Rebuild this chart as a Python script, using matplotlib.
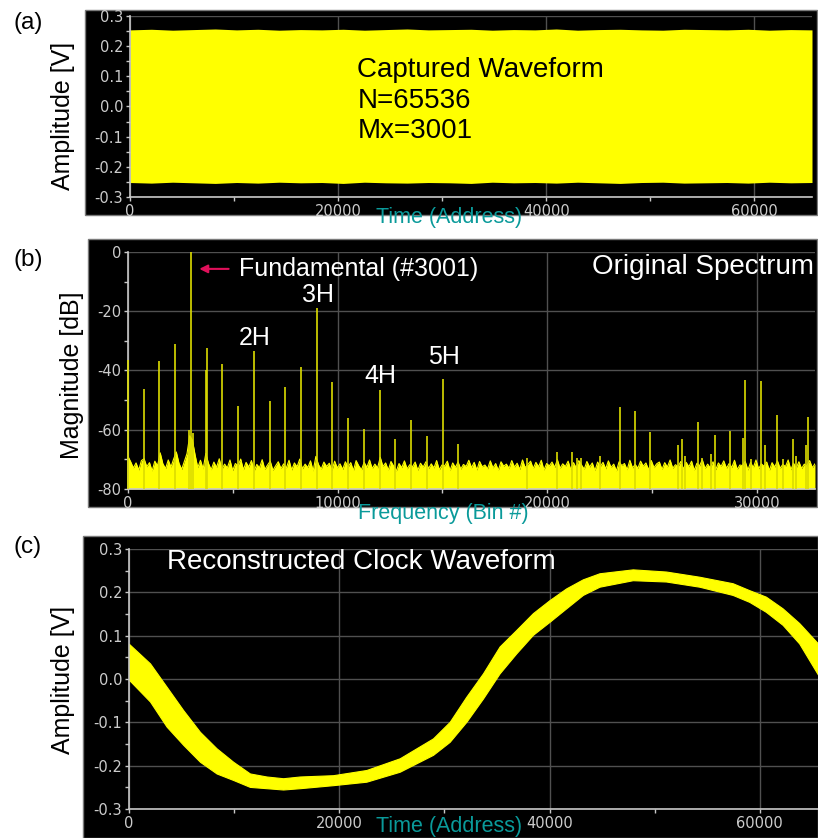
import numpy as np
import matplotlib
matplotlib.use("Agg")
import matplotlib.pyplot as plt
from matplotlib.patches import Rectangle

plt.rcParams['axes.unicode_minus'] = False

# ------------------------------------------------------------------ data
# (a) captured waveform: envelope of the dense sine record (N=65536)
a_step = 2048
a_upper = [0.254, 0.256, 0.253, 0.255, 0.257, 0.254, 0.256, 0.253, 0.255,
           0.254, 0.256, 0.253, 0.255, 0.257, 0.254, 0.255, 0.256, 0.253,
           0.255, 0.254, 0.257, 0.253, 0.255, 0.256, 0.254, 0.253, 0.256,
           0.255, 0.254, 0.256, 0.253, 0.255, 0.254]
a_lower = [-0.252, -0.254, -0.251, -0.253, -0.255, -0.252, -0.254, -0.251,
           -0.253, -0.252, -0.255, -0.251, -0.253, -0.254, -0.252, -0.253,
           -0.255, -0.251, -0.253, -0.252, -0.254, -0.251, -0.253, -0.255,
           -0.252, -0.251, -0.254, -0.253, -0.252, -0.254, -0.251, -0.253,
           -0.252]

# (b) spectrum: discrete spurs (bin, dB) and noise floor
spur_bins = [0, 750, 1500, 2250, 2930, 3001, 3080, 3730, 3751, 4501, 5251,
             6002, 6752, 7502, 8252, 9003, 9753, 10504, 11254, 12004, 12754,
             13505, 14255, 15005, 15755,
             19030, 20480, 21200, 21400, 21600, 22490, 23460, 24200, 24920,
             26250, 26440, 26560, 27180, 27400, 27800, 27975, 28710, 29330,
             29440, 29730, 30180, 30370, 30970, 31260, 31720, 31880, 32330,
             32440]
spur_db = [-36.4, -46.2, -36.9, -31.0, -60.0, 0.0, -61.0, -39.8, -32.5,
           -37.9, -52.0, -33.3, -50.3, -45.5, -38.7, -19.0, -43.8, -56.1,
           -59.7, -46.6, -63.2, -56.8, -62.1, -43.0, -64.7,
           -69.6, -67.5, -67.5, -69.6, -69.6, -68.9, -52.4, -53.6, -60.9,
           -65.1, -63.0, -69.0, -57.5, -69.6, -68.3, -61.8, -60.3, -62.9,
           -43.3, -70.0, -43.7, -65.1, -54.9, -69.8, -63.2, -68.9, -65.1,
           -55.7]
floor_step = 128
floor_db = [
    -69.0, -70.8, -72.9, -71.2, -73.6, -70.4, -69.8, -72.5, -71.1, -73.9, -70.6, -72.2, -67.8, -71.5, -73.1, -70.2,
    -72.6, -69.9, -67.5, -71.3, -73.4, -70.7, -68.0, -62.0, -63.5, -68.5, -72.8, -70.3, -73.2, -68.0, -71.4, -73.5,
    -70.9, -72.7, -69.8, -73.3, -71.6, -72.9, -70.2, -73.8, -71.4, -72.1, -69.9, -73.5, -71.0, -72.6, -70.4, -73.9,
    -71.7, -72.8, -70.1, -73.4, -71.9, -70.6, -73.7, -72.2, -70.8, -73.1, -71.5, -72.9, -70.3, -73.6, -71.2, -72.5,
    -69.9, -73.2, -71.6, -72.8, -70.5, -73.9, -69.0, -71.8, -73.3, -70.9, -72.4, -71.3, -73.7, -70.6, -72.9, -71.5,
    -73.4, -70.8, -72.6, -71.1, -73.8, -70.4, -72.2, -73.5, -71.0, -72.7, -70.2, -73.1, -71.6, -72.9, -69.3, -72.4,
    -71.2, -73.6, -70.7, -72.3, -73.9, -71.4, -72.8, -70.5, -73.2, -71.8, -72.5, -70.9, -73.7, -71.3, -72.6, -70.8,
    -73.1, -71.5, -72.9, -70.4, -73.5, -71.9, -72.2, -70.6, -73.8, -71.2, -72.7, -70.9, -73.3, -71.7, -72.4, -70.3,
    -72.8, -71.0, -73.6, -70.7, -72.5, -71.9, -73.2, -70.5, -72.9, -71.4, -73.7, -70.8, -72.3, -71.6, -73.0, -70.4,
    -72.6, -71.3, -73.4, -70.2, -72.8, -71.7, -70.6, -73.1, -71.0, -72.5, -70.3, -73.6, -71.4, -72.2, -70.9, -72.7,
    -70.1, -73.0, -71.5, -72.4, -70.6, -73.5, -71.1, -72.8, -70.4, -71.9, -73.3, -70.7, -72.6, -71.2, -73.8, -70.9,
    -72.4, -71.0, -73.2, -70.5, -72.7, -71.6, -73.9, -70.8, -72.1, -71.4, -73.5, -70.3, -72.9, -71.7, -73.0, -70.6,
    -72.3, -71.2, -73.6, -70.4, -72.8, -71.5, -70.9, -73.4, -71.1, -72.6, -70.2, -73.0, -71.8, -72.4, -70.7, -73.3,
    -71.0, -72.5, -70.6, -73.7, -71.3, -72.2, -70.1, -73.1, -71.6, -72.9, -70.8, -73.5, -71.2, -72.4, -70.5, -73.0,
    -71.4, -72.7, -70.3, -73.4, -71.9, -72.1, -70.7, -73.6, -71.0, -72.8, -70.2, -73.2, -71.5, -72.3, -70.9, -73.7,
    -71.1, -72.6, -70.5, -73.0, -71.7, -72.4, -70.2, -73.5, -71.3, -72.9, -70.8, -73.1, -71.6, -72.2, -70.4, -72.8,
    -71.5]
harm_labels = ['2H', '3H', '4H', '5H']

# (c) reconstructed clock waveform: band envelope
c_addr = [0, 2000, 3580, 5160, 6750, 8330, 9910, 11500, 13080, 14660, 16250,
          19410, 22580, 25750, 28920, 30500, 32080, 33670, 35250, 36830,
          38420, 40000, 41580, 43170, 44750, 47920, 51080, 54250, 57420,
          59000, 60580, 62170, 63750, 65536]
c_upper = [0.081, 0.036, -0.018, -0.072, -0.122, -0.160, -0.191, -0.218,
           -0.225, -0.229, -0.225, -0.222, -0.210, -0.183, -0.137, -0.099,
           -0.041, 0.013, 0.075, 0.113, 0.152, 0.182, 0.209, 0.230, 0.244,
           0.253, 0.248, 0.236, 0.221, 0.205, 0.190, 0.163, 0.129, 0.082]
c_lower = [-0.002, -0.052, -0.110, -0.152, -0.191, -0.218, -0.233, -0.249,
           -0.252, -0.255, -0.252, -0.245, -0.237, -0.214, -0.175, -0.145,
           -0.099, -0.045, 0.013, 0.059, 0.102, 0.132, 0.163, 0.194, 0.213,
           0.228, 0.225, 0.213, 0.194, 0.178, 0.155, 0.125, 0.082, 0.010]

time_major = [0, 20000, 40000, 60000]
time_minor = [10000, 30000, 50000]
amp_major = [-0.3, -0.2, -0.1, 0.0, 0.1, 0.2, 0.3]
amp_minor = [-0.25, -0.15, -0.05, 0.05, 0.15, 0.25]
freq_major = [0, 10000, 20000, 30000]
freq_minor = [5000, 15000, 25000]
db_major = [-80, -60, -40, -20, 0]
db_minor = [-70, -50, -30, -10]

# ------------------------------------------------------------------ style
W, H = 818, 838
YEL = '#ffff00'
SPUR = '#dcdc00'
GRID = '#505050'
SPINE = '#c8c8c8'
TICKLAB = '#cccccc'
TEAL = '#0a9a9a'
SANS = ['Liberation Sans', 'DejaVu Sans']

fig = plt.figure(figsize=(W / 100, H / 100), dpi=100)
fig.patch.set_facecolor('white')


def fx(x):
    return x / W


def fy(y):
    return 1 - y / H


def box(x0, y0, x1, y1):
    r = Rectangle((fx(x0), fy(y1)), fx(x1) - fx(x0), fy(y0) - fy(y1),
                  transform=fig.transFigure, facecolor='black',
                  edgecolor='#7a7a7a', linewidth=1.0, zorder=-5)
    fig.add_artist(r)


def make_axes(x0, y0, x1, y1):
    ax = fig.add_axes([fx(x0), fy(y1), fx(x1) - fx(x0), fy(y0) - fy(y1)])
    ax.set_facecolor('black')
    for s in ('top', 'right'):
        ax.spines[s].set_visible(False)
    for s in ('left', 'bottom'):
        ax.spines[s].set_color(SPINE)
        ax.spines[s].set_linewidth(1.2)
    ax.tick_params(which='both', direction='out', color=SPINE,
                   labelcolor=TICKLAB, labelsize=10.5, pad=2)
    ax.tick_params(which='major', length=3, width=1)
    ax.tick_params(which='minor', length=3, width=1)
    ax.grid(True, which='major', color=GRID, linewidth=1.0)
    ax.set_axisbelow(True)
    return ax


# boxes behind panels
box(85, 10, 817, 215)
box(88, 239, 817, 507)
box(83, 536, 818, 838)

# ---------------- panel (a)
ax_a = make_axes(130, 16, 812, 197)
a_x = np.arange(len(a_upper)) * a_step
a_x[-1] = 65536
ax_a.fill_between(a_x, a_lower, a_upper, color=YEL, linewidth=0, zorder=2)
ax_a.set_xlim(0, 65536)
ax_a.set_ylim(-0.3, 0.3)
ax_a.set_xticks(time_major)
ax_a.set_xticks(time_minor, minor=True)
ax_a.set_yticks(amp_major)
ax_a.set_yticks(amp_minor, minor=True)
ax_a.set_yticklabels([f'{v:.1f}' for v in amp_major])
for txt, yv in [('Captured Waveform', 0.121), ('N=65536', 0.018),
                ('Mx=3001', -0.081)]:
    ax_a.text(21850, yv, txt, fontsize=20, family=SANS, color='black',
              ha='left', va='center', zorder=5)

# ---------------- panel (b)
ax_b = make_axes(128, 252, 815, 489)
f_x = np.arange(len(floor_db)) * floor_step
ax_b.fill_between(f_x, -80, floor_db, color=YEL, linewidth=0, zorder=2)
ax_b.plot(f_x, floor_db, color=YEL, linewidth=0.8, zorder=2)
ax_b.vlines(spur_bins, -80, spur_db, colors=SPUR, linewidth=1.2, zorder=3,
            clip_on=False)
ax_b.set_xlim(0, 32768)
ax_b.set_ylim(-80, 0)
ax_b.set_xticks(freq_major)
ax_b.set_xticks(freq_minor, minor=True)
ax_b.set_yticks(db_major)
ax_b.set_yticks(db_minor, minor=True)
ax_b.annotate('', xy=(3400, -5.7), xytext=(4800, -5.7),
              arrowprops=dict(arrowstyle='-|>', color='#e0105a', lw=1.5,
                              mutation_scale=12, shrinkA=0, shrinkB=0),
              zorder=6)
ax_b.text(5300, -5.7, 'Fundamental (#3001)', fontsize=18, family=SANS,
          color='white', ha='left', va='center', zorder=6)
for lab, (bx, by) in zip(harm_labels, [(5300, -29.0), (8320, -14.5),
                                       (11290, -41.9), (14300, -35.4)]):
    ax_b.text(bx, by, lab, fontsize=18, family=SANS, color='white',
              ha='left', va='center', zorder=6)
ax_b.text(32740, -5.0, 'Original Spectrum', fontsize=20, family=SANS,
          color='white', ha='right', va='center', zorder=6)

# ---------------- panel (c)
ax_c = make_axes(129, 549, 818, 809)
ax_c.fill_between(c_addr, c_lower, c_upper, color=YEL, linewidth=0.8,
                  edgecolor=YEL, zorder=2)
ax_c.set_xlim(0, 65536)
ax_c.set_ylim(-0.3, 0.3)
ax_c.set_xticks(time_major)
ax_c.set_xticks(time_minor, minor=True)
ax_c.set_yticks(amp_major)
ax_c.set_yticks(amp_minor, minor=True)
ax_c.set_yticklabels([f'{v:.1f}' for v in amp_major])
ax_c.text(3610, 0.27, 'Reconstructed Clock Waveform', fontsize=20,
          family=SANS, color='white', ha='left', va='center', zorder=6)

# ---------------- outer labels
for txt, x, y in [('(a)', 28, 23), ('(b)', 28, 260), ('(c)', 28, 547)]:
    fig.text(fx(x), fy(y), txt, fontsize=17.5, family=SANS, color='black',
             ha='center', va='center')
for txt, x, y in [('Amplitude [V]', 63, 116), ('Magnitude [dB]', 72, 375),
                  ('Amplitude [V]', 63, 680)]:
    fig.text(fx(x), fy(y), txt, fontsize=18, family=SANS, color='black',
             ha='center', va='center', rotation=90)
for txt, x, y in [('Time (Address)', 449, 217),
                  ('Frequency (Bin #)', 443, 514),
                  ('Time (Address)', 449, 826)]:
    fig.text(fx(x), fy(y), txt, fontsize=15.5, family=SANS, color=TEAL,
             ha='center', va='center', zorder=10)

fig.savefig('out.png', dpi=100, facecolor='white')
